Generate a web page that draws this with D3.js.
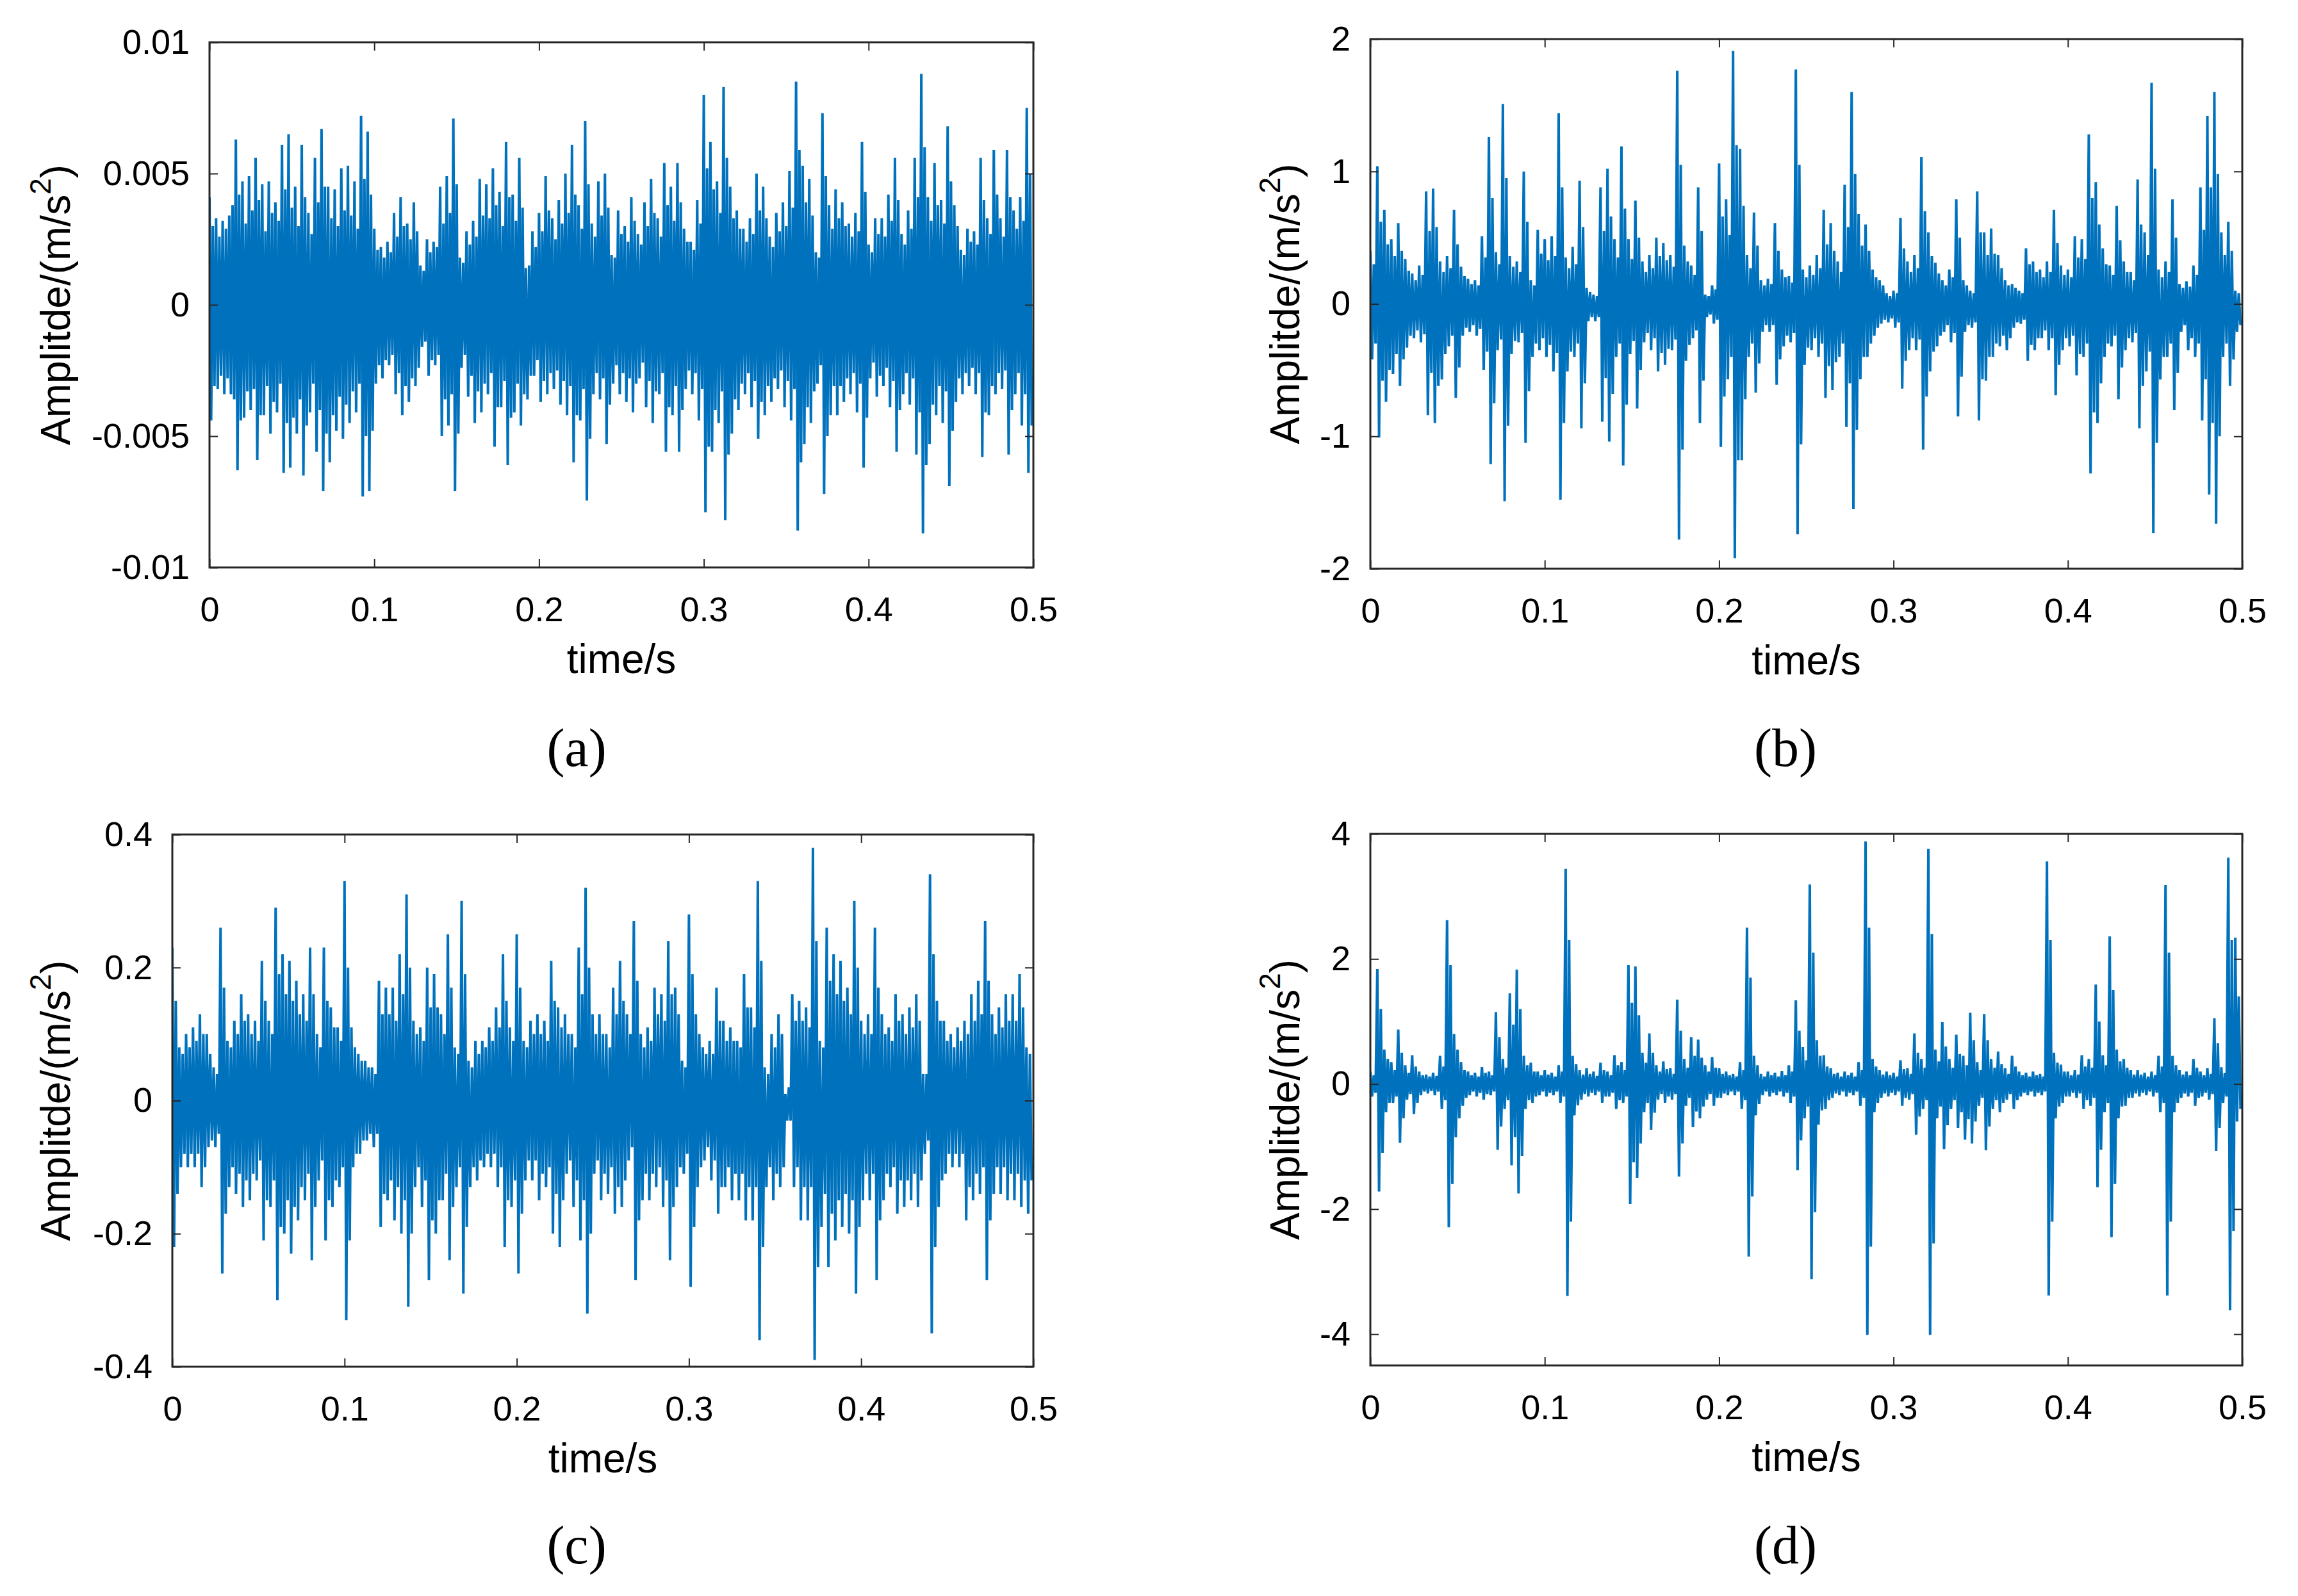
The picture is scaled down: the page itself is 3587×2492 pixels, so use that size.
<!DOCTYPE html>
<html>
<head>
<meta charset="utf-8">
<script src="https://cdnjs.cloudflare.com/ajax/libs/d3/7.8.5/d3.min.js"></script>
<style>
  body { margin: 0; background: #fff; }
</style>
</head>
<body>
<script>
// each 4 ms bin holds its largest peak pair (High/Low) and a second,
// smaller peak pair (High2/Low2), all read off the figure
var binWidth = 0.004;
var timeTicks = [0, 0.1, 0.2, 0.3, 0.4, 0.5];

// (a) values in 1e-3 m/s^2
var aUnit = 1e-3;
var aTicks = [-0.01, -0.005, 0, 0.005, 0.01];
var aHigh = [4.1,3.3,3.2,3.4,6.3,4.7,4.9,5.6,4.6,4.7,
  3.9,6.1,6.5,4.5,6.1,3.5,5.6,6.7,4.5,4.4,
  5.2,5.3,4.7,7.2,6.6,2.9,2.2,2.4,3.5,4.1,
  3.1,3.9,1.5,2.5,2.4,4.5,4.9,7.1,1.8,2.8,
  3.2,4.8,4.6,5.2,4.3,6.2,4.2,5.6,1.4,2.8,
  3.5,4.9,3.3,4.0,5.0,6.1,3.8,7.0,3.1,4.7,
  5.0,1.9,3.6,3.0,4.1,2.7,3.9,4.8,3.3,5.4,
  4.5,5.4,2.9,2.4,4.0,8.0,6.2,4.7,8.3,4.5,
  3.6,2.9,3.3,5.0,4.5,2.6,3.5,3.9,5.1,8.5,
  5.3,4.8,2.0,7.3,3.8,4.4,3.9,3.1,3.5,6.2,
  2.3,3.3,3.3,4.2,5.6,2.7,3.6,5.6,8.8,4.1,
  5.4,4.0,6.8,3.8,2.1,2.9,2.8,5.6,3.3,5.9,
  3.3,5.9,3.6,4.1,7.5];
var aLow = [-4.4,-3.2,-3.4,-3.4,-6.3,-4.3,-4.0,-5.9,-4.2,-4.9,
  -4.1,-6.4,-6.2,-4.9,-6.5,-4.1,-5.6,-7.1,-6.0,-4.8,
  -5.1,-4.5,-4.1,-7.3,-7.1,-3.0,-2.8,-2.3,-3.4,-4.2,
  -3.7,-3.1,-1.6,-2.7,-2.3,-5.0,-4.6,-7.1,-2.4,-3.5,
  -4.5,-4.1,-3.4,-5.4,-3.9,-6.1,-4.1,-4.6,-3.6,-2.7,
  -3.7,-3.4,-3.2,-3.8,-4.2,-6.0,-4.4,-7.45,-3.4,-3.6,
  -5.3,-3.0,-3.4,-3.7,-4.1,-2.8,-3.9,-4.5,-3.4,-5.6,
  -4.2,-5.6,-3.2,-3.4,-4.4,-7.9,-5.6,-4.5,-8.2,-4.9,
  -4.0,-3.4,-3.9,-5.1,-4.2,-3.7,-3.2,-3.9,-4.4,-8.6,
  -5.3,-4.5,-3.0,-7.2,-4.2,-4.2,-3.7,-3.4,-4.1,-6.2,
  -2.8,-3.5,-3.1,-3.9,-5.6,-3.4,-3.8,-5.7,-8.7,-5.3,
  -4.2,-4.5,-6.9,-3.7,-3.4,-3.1,-3.4,-5.8,-4.2,-3.4,
  -3.2,-5.7,-3.4,-4.6,-6.4];
var aHigh2 = [3.0,2.6,2.9,3.8,4.2,3.1,3.6,4.0,2.8,3.5,
  3.2,4.4,3.7,3.0,4.1,2.7,3.9,4.5,3.3,3.0,
  3.6,3.4,2.9,4.8,4.2,2.1,1.8,2.0,2.6,3.0,
  2.5,2.8,1.3,2.0,2.2,3.1,3.5,4.6,1.6,2.3,
  2.6,3.4,3.3,3.8,3.0,4.1,3.2,3.7,1.5,2.2,
  2.8,3.6,2.5,3.1,3.5,4.2,2.9,4.6,2.6,3.4,
  3.7,1.8,2.7,2.4,3.2,2.3,3.0,3.5,2.6,3.8,
  3.2,3.9,2.4,2.1,3.1,5.2,4.4,3.5,5.6,3.3,
  2.9,2.4,2.7,3.6,3.3,2.2,2.8,3.0,3.7,5.9,
  3.9,3.4,1.8,4.9,2.9,3.3,3.0,2.6,2.8,4.3,
  2.0,2.7,2.6,3.2,4.0,2.3,2.9,4.1,6.0,3.2,
  3.8,3.1,4.7,3.0,1.9,2.4,2.3,4.0,2.7,4.2,
  2.6,4.1,2.9,3.2,5.0];
var aLow2 = [-3.1,-2.7,-2.8,-3.6,-4.4,-3.3,-3.2,-4.2,-3.1,-3.7,
  -3.0,-4.5,-4.3,-3.6,-4.6,-3.0,-4.0,-4.9,-4.2,-3.5,
  -3.8,-3.3,-3.0,-5.0,-4.8,-2.3,-2.1,-1.9,-2.6,-3.1,
  -2.8,-2.4,-1.4,-2.1,-1.9,-3.6,-3.4,-4.9,-1.9,-2.7,
  -3.3,-3.0,-2.6,-3.9,-2.9,-4.3,-3.0,-3.4,-2.7,-2.1,
  -2.9,-2.6,-2.5,-2.9,-3.1,-4.2,-3.2,-5.1,-2.6,-2.8,
  -3.8,-2.3,-2.6,-2.8,-3.0,-2.2,-2.9,-3.3,-2.6,-3.9,
  -3.1,-4.0,-2.5,-2.6,-3.2,-5.4,-4.0,-3.3,-5.7,-3.6,
  -3.0,-2.6,-2.9,-3.7,-3.1,-2.8,-2.5,-2.9,-3.2,-6.0,
  -3.9,-3.3,-2.3,-5.0,-3.1,-3.1,-2.8,-2.6,-3.0,-4.3,
  -2.2,-2.7,-2.4,-2.9,-4.0,-2.6,-2.8,-4.1,-6.1,-3.8,
  -3.1,-3.3,-4.8,-2.8,-2.6,-2.4,-2.6,-4.1,-3.1,-2.6,
  -2.5,-4.0,-2.6,-3.4,-4.6];

// (b) values in m/s^2
var bTicks = [-2, -1, 0, 1, 2];
var bHigh = [0.40,1.04,0.71,0.49,0.61,0.34,0.23,0.29,0.85,0.87,
  0.32,0.36,0.71,0.28,0.19,0.18,0.51,1.26,0.39,1.51,
  0.36,0.32,1.00,0.18,0.56,0.49,0.51,1.44,0.35,0.43,
  0.93,0.12,0.07,0.88,1.02,0.49,1.19,0.49,0.78,0.32,
  0.37,0.50,0.46,0.37,1.76,0.44,0.29,0.88,0.07,0.14,
  1.06,0.79,1.91,1.17,0.37,0.69,0.18,0.19,0.61,0.26,
  0.21,1.77,0.26,0.29,0.37,0.71,0.61,0.32,0.90,1.60,
  0.68,0.60,0.26,0.18,0.08,0.10,0.65,0.32,0.37,1.11,
  0.54,0.31,0.18,0.26,0.79,0.18,0.10,0.85,0.54,0.57,
  0.37,0.18,0.15,0.10,0.42,0.32,0.26,0.32,0.71,0.29,
  0.26,0.51,0.49,1.28,0.92,0.42,0.29,0.74,0.32,0.24,
  0.94,0.54,1.67,0.26,0.32,0.79,0.15,0.17,0.29,0.88,
  1.42,1.60,0.54,0.62,0.10];
var bLow = [-0.42,-1.01,-0.74,-0.53,-0.62,-0.33,-0.26,-0.29,-0.84,-0.90,
  -0.57,-0.32,-0.71,-0.24,-0.21,-0.24,-0.50,-1.21,-0.35,-1.49,
  -0.38,-0.29,-1.05,-0.40,-0.35,-0.40,-0.51,-1.48,-0.51,-0.40,
  -0.94,-0.13,-0.13,-0.89,-1.04,-0.40,-1.22,-0.38,-0.79,-0.29,
  -0.35,-0.51,-0.46,-0.35,-1.78,-0.43,-0.26,-0.90,-0.10,-0.15,
  -1.08,-0.57,-1.92,-1.18,-0.40,-0.67,-0.21,-0.21,-0.61,-0.32,
  -0.29,-1.74,-0.46,-0.35,-0.40,-0.71,-0.65,-0.40,-0.93,-1.55,
  -0.57,-0.40,-0.24,-0.15,-0.14,-0.18,-0.64,-0.35,-0.35,-1.10,
  -0.51,-0.32,-0.21,-0.29,-0.85,-0.21,-0.18,-0.88,-0.58,-0.40,
  -0.32,-0.35,-0.18,-0.15,-0.43,-0.35,-0.26,-0.35,-0.69,-0.35,
  -0.32,-0.54,-0.40,-1.28,-0.90,-0.40,-0.32,-0.72,-0.35,-0.29,
  -0.94,-0.51,-1.73,-0.57,-0.40,-0.80,-0.21,-0.35,-0.40,-0.88,
  -1.44,-1.66,-0.40,-0.62,-0.21];
var bHigh2 = [0.30,0.62,0.45,0.36,0.40,0.25,0.18,0.22,0.55,0.58,
  0.24,0.27,0.45,0.21,0.15,0.14,0.35,0.80,0.30,0.95,
  0.28,0.24,0.62,0.14,0.38,0.33,0.36,0.88,0.27,0.30,
  0.58,0.09,0.06,0.55,0.66,0.35,0.72,0.34,0.50,0.24,
  0.27,0.36,0.33,0.28,1.05,0.32,0.22,0.55,0.06,0.11,
  0.66,0.52,1.20,0.74,0.27,0.44,0.14,0.15,0.40,0.20,
  0.16,1.05,0.20,0.22,0.27,0.45,0.40,0.24,0.58,0.98,
  0.44,0.40,0.20,0.14,0.06,0.08,0.42,0.24,0.27,0.70,
  0.36,0.23,0.14,0.20,0.50,0.14,0.08,0.54,0.37,0.38,
  0.27,0.14,0.12,0.08,0.30,0.24,0.20,0.24,0.46,0.22,
  0.20,0.35,0.34,0.80,0.60,0.30,0.22,0.48,0.24,0.18,
  0.60,0.37,1.02,0.20,0.24,0.50,0.12,0.13,0.22,0.56,
  0.88,0.98,0.37,0.40,0.08];
var bLow2 = [-0.30,-0.58,-0.50,-0.38,-0.42,-0.24,-0.20,-0.23,-0.52,-0.62,
  -0.38,-0.24,-0.48,-0.18,-0.16,-0.19,-0.36,-0.75,-0.27,-0.92,
  -0.28,-0.22,-0.66,-0.30,-0.26,-0.31,-0.37,-0.90,-0.36,-0.30,
  -0.60,-0.10,-0.10,-0.56,-0.68,-0.30,-0.76,-0.28,-0.50,-0.22,
  -0.26,-0.37,-0.34,-0.27,-1.10,-0.31,-0.20,-0.58,-0.08,-0.12,
  -0.70,-0.40,-1.18,-0.72,-0.30,-0.45,-0.16,-0.16,-0.42,-0.24,
  -0.22,-1.06,-0.33,-0.26,-0.30,-0.47,-0.44,-0.30,-0.60,-0.95,
  -0.40,-0.30,-0.18,-0.12,-0.11,-0.14,-0.43,-0.26,-0.27,-0.70,
  -0.36,-0.24,-0.16,-0.22,-0.55,-0.16,-0.14,-0.57,-0.40,-0.30,
  -0.24,-0.26,-0.14,-0.12,-0.31,-0.26,-0.20,-0.26,-0.46,-0.26,
  -0.24,-0.38,-0.30,-0.82,-0.60,-0.30,-0.24,-0.48,-0.26,-0.22,
  -0.62,-0.36,-1.05,-0.40,-0.30,-0.52,-0.16,-0.26,-0.30,-0.57,
  -0.90,-1.00,-0.30,-0.42,-0.16];

// (c) values in m/s^2
var cTicks = [-0.4, -0.2, 0, 0.2, 0.4];
var cHigh = [0.23,0.08,0.10,0.11,0.13,0.10,0.05,0.26,0.09,0.12,
  0.16,0.13,0.12,0.21,0.12,0.29,0.22,0.21,0.18,0.16,
  0.23,0.10,0.23,0.14,0.11,0.33,0.11,0.07,0.06,0.05,
  0.18,0.17,0.17,0.22,0.31,0.12,0.11,0.20,0.19,0.13,
  0.25,0.08,0.30,0.06,0.09,0.09,0.11,0.14,0.22,0.11,
  0.25,0.09,0.12,0.13,0.12,0.21,0.14,0.13,0.10,0.23,
  0.32,0.13,0.13,0.10,0.17,0.21,0.13,0.27,0.10,0.11,
  0.17,0.16,0.24,0.17,0.06,0.28,0.13,0.08,0.09,0.17,
  0.12,0.11,0.09,0.19,0.14,0.33,0.05,0.10,0.13,0.01,
  0.16,0.15,0.14,0.38,0.09,0.26,0.22,0.21,0.17,0.30,
  0.12,0.13,0.26,0.13,0.11,0.16,0.13,0.14,0.16,0.04,
  0.34,0.15,0.12,0.10,0.11,0.12,0.16,0.18,0.27,0.13,
  0.14,0.16,0.16,0.19,0.08];
var cLow = [-0.22,-0.10,-0.10,-0.10,-0.13,-0.07,-0.07,-0.26,-0.13,-0.14,
  -0.16,-0.15,-0.12,-0.21,-0.16,-0.30,-0.20,-0.23,-0.18,-0.15,
  -0.24,-0.12,-0.21,-0.16,-0.13,-0.33,-0.10,-0.08,-0.06,-0.07,
  -0.19,-0.15,-0.18,-0.20,-0.31,-0.13,-0.16,-0.27,-0.20,-0.15,
  -0.24,-0.13,-0.29,-0.13,-0.12,-0.10,-0.10,-0.13,-0.22,-0.16,
  -0.26,-0.12,-0.12,-0.15,-0.13,-0.20,-0.22,-0.11,-0.16,-0.21,
  -0.32,-0.11,-0.15,-0.14,-0.17,-0.16,-0.09,-0.27,-0.15,-0.15,
  -0.13,-0.16,-0.24,-0.13,-0.11,-0.28,-0.13,-0.09,-0.12,-0.17,
  -0.13,-0.15,-0.15,-0.18,-0.18,-0.36,-0.13,-0.15,-0.13,-0.03,
  -0.13,-0.18,-0.18,-0.39,-0.19,-0.25,-0.21,-0.19,-0.20,-0.29,
  -0.15,-0.15,-0.27,-0.15,-0.13,-0.17,-0.16,-0.15,-0.16,-0.08,
  -0.35,-0.16,-0.11,-0.10,-0.10,-0.18,-0.15,-0.14,-0.27,-0.14,
  -0.14,-0.15,-0.15,-0.16,-0.17];
var cHigh2 = [0.15,0.07,0.08,0.09,0.10,0.07,0.04,0.17,0.08,0.10,
  0.12,0.10,0.09,0.15,0.10,0.19,0.16,0.15,0.13,0.12,
  0.16,0.08,0.15,0.11,0.09,0.20,0.08,0.06,0.05,0.04,
  0.13,0.13,0.12,0.16,0.20,0.10,0.09,0.14,0.14,0.10,
  0.17,0.07,0.19,0.05,0.07,0.08,0.09,0.11,0.15,0.09,
  0.17,0.08,0.10,0.10,0.09,0.15,0.11,0.10,0.08,0.16,
  0.20,0.10,0.10,0.08,0.13,0.15,0.10,0.18,0.08,0.09,
  0.13,0.12,0.16,0.13,0.05,0.19,0.10,0.07,0.07,0.12,
  0.09,0.09,0.08,0.14,0.11,0.21,0.04,0.08,0.10,0.02,
  0.12,0.12,0.11,0.24,0.08,0.18,0.16,0.15,0.13,0.20,
  0.10,0.10,0.17,0.10,0.09,0.12,0.10,0.11,0.12,0.04,
  0.22,0.12,0.09,0.08,0.09,0.10,0.12,0.13,0.18,0.10,
  0.11,0.12,0.12,0.14,0.07];
var cLow2 = [-0.14,-0.08,-0.08,-0.08,-0.10,-0.06,-0.05,-0.17,-0.10,-0.11,
  -0.12,-0.11,-0.09,-0.15,-0.12,-0.19,-0.15,-0.16,-0.13,-0.11,
  -0.16,-0.09,-0.15,-0.12,-0.10,-0.21,-0.08,-0.06,-0.05,-0.05,
  -0.14,-0.12,-0.13,-0.15,-0.20,-0.10,-0.12,-0.18,-0.15,-0.11,
  -0.16,-0.10,-0.19,-0.10,-0.09,-0.08,-0.08,-0.10,-0.15,-0.12,
  -0.17,-0.09,-0.09,-0.11,-0.10,-0.14,-0.15,-0.09,-0.12,-0.15,
  -0.20,-0.09,-0.11,-0.10,-0.13,-0.12,-0.07,-0.18,-0.11,-0.11,
  -0.10,-0.12,-0.16,-0.10,-0.08,-0.19,-0.10,-0.07,-0.09,-0.13,
  -0.10,-0.11,-0.11,-0.13,-0.13,-0.22,-0.10,-0.11,-0.10,-0.03,
  -0.10,-0.13,-0.13,-0.25,-0.14,-0.17,-0.15,-0.14,-0.15,-0.19,
  -0.11,-0.11,-0.18,-0.11,-0.10,-0.12,-0.12,-0.11,-0.12,-0.06,
  -0.22,-0.12,-0.08,-0.08,-0.08,-0.13,-0.11,-0.10,-0.18,-0.10,
  -0.10,-0.11,-0.11,-0.12,-0.12];

// (d) values in m/s^2
var dTicks = [-4, -2, 0, 2, 4];
var dHigh = [0.20,1.84,0.55,0.35,0.87,0.30,0.46,0.20,0.15,0.18,
  0.45,2.62,0.80,0.35,0.20,0.18,0.27,0.20,1.15,0.40,
  1.45,1.83,0.45,0.34,0.20,0.22,0.18,0.30,3.44,0.45,
  0.22,0.25,0.20,0.34,0.20,0.46,0.35,1.90,1.88,0.50,
  0.81,0.30,0.36,0.25,1.35,0.40,0.75,0.71,0.30,0.43,
  0.25,0.20,0.16,0.35,2.50,0.45,0.16,0.20,0.18,0.21,
  0.30,1.34,0.59,3.19,0.70,0.46,0.25,0.18,0.20,0.18,
  0.35,3.88,0.40,0.22,0.20,0.18,0.38,0.25,0.81,0.40,
  3.76,0.55,0.99,0.40,0.79,0.45,1.14,0.35,1.12,0.40,
  0.52,0.25,0.45,0.20,0.18,0.20,0.16,3.56,0.50,0.31,
  0.20,0.22,0.46,0.40,1.59,0.46,2.36,0.55,0.40,0.22,
  0.22,0.18,0.20,0.45,3.18,0.45,0.22,0.20,0.40,0.20,
  0.25,1.05,0.27,3.62,2.34];
var dLow = [-0.20,-1.72,-0.45,-0.30,-0.94,-0.25,-0.48,-0.18,-0.15,-0.18,
  -0.40,-2.29,-0.85,-0.35,-0.18,-0.20,-0.25,-0.18,-1.05,-0.40,
  -1.30,-1.75,-0.40,-0.30,-0.18,-0.20,-0.18,-0.30,-3.39,-0.50,
  -0.25,-0.20,-0.18,-0.30,-0.20,-0.40,-0.30,-1.92,-1.50,-0.45,
  -0.73,-0.25,-0.30,-0.25,-1.48,-0.35,-0.69,-0.55,-0.25,-0.35,
  -0.22,-0.18,-0.18,-0.40,-2.76,-0.50,-0.18,-0.20,-0.18,-0.20,
  -0.30,-1.38,-0.55,-3.12,-0.65,-0.40,-0.22,-0.18,-0.20,-0.18,
  -0.35,-4.01,-0.45,-0.22,-0.20,-0.18,-0.35,-0.25,-0.81,-0.40,
  -4.01,-0.55,-1.04,-0.40,-0.70,-0.89,-0.95,-0.35,-1.06,-0.40,
  -0.45,-0.25,-0.40,-0.20,-0.18,-0.20,-0.18,-3.38,-0.55,-0.30,
  -0.20,-0.22,-0.40,-0.35,-1.65,-0.45,-2.45,-0.55,-0.35,-0.22,
  -0.20,-0.18,-0.20,-0.45,-3.38,-0.45,-0.22,-0.20,-0.35,-0.20,
  -0.25,-1.07,-0.30,-3.62,-0.60];
var dHigh2 = [0.14,1.20,0.40,0.22,0.50,0.18,0.28,0.14,0.12,0.13,
  0.28,1.90,0.55,0.22,0.14,0.12,0.18,0.14,0.75,0.26,
  0.95,1.20,0.30,0.20,0.14,0.15,0.12,0.20,2.30,0.32,
  0.15,0.16,0.13,0.22,0.14,0.30,0.22,1.30,1.10,0.34,
  0.50,0.20,0.24,0.16,0.85,0.26,0.45,0.42,0.20,0.26,
  0.16,0.14,0.12,0.22,1.70,0.30,0.12,0.14,0.12,0.14,
  0.20,0.85,0.38,2.10,0.45,0.28,0.16,0.12,0.14,0.12,
  0.22,2.50,0.28,0.15,0.14,0.12,0.24,0.16,0.50,0.26,
  2.40,0.36,0.60,0.26,0.48,0.30,0.70,0.22,0.70,0.26,
  0.32,0.16,0.28,0.14,0.12,0.14,0.12,2.30,0.34,0.20,
  0.14,0.15,0.28,0.26,1.00,0.30,1.50,0.36,0.26,0.15,
  0.15,0.12,0.14,0.28,2.10,0.30,0.15,0.14,0.26,0.14,
  0.16,0.65,0.18,2.30,1.40];
var dLow2 = [-0.14,-1.10,-0.30,-0.20,-0.55,-0.16,-0.30,-0.12,-0.11,-0.12,
  -0.26,-1.60,-0.55,-0.22,-0.12,-0.14,-0.16,-0.12,-0.68,-0.26,
  -0.85,-1.15,-0.26,-0.20,-0.12,-0.14,-0.12,-0.20,-2.20,-0.34,
  -0.16,-0.14,-0.12,-0.20,-0.14,-0.26,-0.20,-1.25,-0.95,-0.30,
  -0.46,-0.16,-0.20,-0.16,-0.95,-0.22,-0.44,-0.36,-0.16,-0.22,
  -0.15,-0.12,-0.12,-0.26,-1.80,-0.32,-0.12,-0.14,-0.12,-0.14,
  -0.20,-0.90,-0.36,-2.05,-0.42,-0.26,-0.15,-0.12,-0.14,-0.12,
  -0.22,-2.60,-0.30,-0.15,-0.14,-0.12,-0.22,-0.16,-0.52,-0.26,
  -2.55,-0.36,-0.66,-0.26,-0.45,-0.56,-0.60,-0.22,-0.68,-0.26,
  -0.30,-0.16,-0.26,-0.14,-0.12,-0.14,-0.12,-2.20,-0.36,-0.20,
  -0.14,-0.15,-0.26,-0.22,-1.05,-0.30,-1.60,-0.36,-0.22,-0.15,
  -0.14,-0.12,-0.14,-0.30,-2.20,-0.30,-0.15,-0.14,-0.22,-0.14,
  -0.16,-0.70,-0.20,-2.35,-0.40];

var panels = [
  {id: 'a', high: aHigh, low: aLow, high2: aHigh2, low2: aLow2, unit: aUnit, domain: [-0.01, 0.01], ticks: aTicks},
  {id: 'b', high: bHigh, low: bLow, high2: bHigh2, low2: bLow2, unit: 1, domain: [-2, 2], ticks: bTicks},
  {id: 'c', high: cHigh, low: cLow, high2: cHigh2, low2: cLow2, unit: 1, domain: [-0.4, 0.4], ticks: cTicks},
  {id: 'd', high: dHigh, low: dLow, high2: dHigh2, low2: dLow2, unit: 1, domain: [-4.5, 4], ticks: dTicks}
];

// page layout (pixels)
var layout = {
  a: {left: 327, right: 1613, top: 66, bottom: 886, labelX: 109, capX: 900, capY: 1196},
  b: {left: 2139, right: 3500, top: 61, bottom: 888, labelX: 2028, capX: 2787, capY: 1196},
  c: {left: 269, right: 1613, top: 1303, bottom: 2134, labelX: 109, capX: 900, capY: 2441},
  d: {left: 2139, right: 3500, top: 1302, bottom: 2132, labelX: 2028, capX: 2787, capY: 2441}
};

var lineColor = '#0072BD',
    axisColor = '#262626',
    sansFont = '"Liberation Sans", Arial, Helvetica, sans-serif',
    serifFont = '"Liberation Serif", "Times New Roman", serif',
    tickLen = 13;

var svg = d3.select('body').append('svg')
  .attr('width', 3587)
  .attr('height', 2492);

svg.append('rect')
  .attr('width', 3587)
  .attr('height', 2492)
  .attr('fill', '#fff');

function fmt(d) { return String(d); }

function styleAxis(sel, showText) {
  sel.select('.domain').remove();
  sel.attr('font-size', 54).attr('font-family', sansFont);
  sel.selectAll('.tick line')
    .attr('stroke', axisColor)
    .attr('stroke-width', 2);
  sel.selectAll('.tick text')
    .attr('fill', '#000')
    .style('display', showText ? null : 'none');
}

panels.forEach(function(p) {
  var L = layout[p.id];

  var x = d3.scaleLinear().domain([0, 0.5]).range([L.left, L.right]);
  var y = d3.scaleLinear().domain(p.domain).range([L.bottom, L.top]);

  var g = svg.append('g').attr('id', 'panel-' + p.id);

  g.append('clipPath')
    .attr('id', 'clip-' + p.id)
    .append('rect')
    .attr('x', L.left)
    .attr('y', L.top)
    .attr('width', L.right - L.left)
    .attr('height', L.bottom - L.top);

  // peak, trough, second peak, second trough in every bin
  var pts = [];
  p.high.forEach(function(v, i) {
    var t = i * binWidth;
    pts.push([t, v * p.unit]);
    pts.push([t + binWidth * 0.25, p.low[i] * p.unit]);
    pts.push([t + binWidth * 0.5, p.high2[i] * p.unit]);
    pts.push([t + binWidth * 0.75, p.low2[i] * p.unit]);
  });

  g.append('g')
    .attr('clip-path', 'url(#clip-' + p.id + ')')
    .append('path')
    .datum(pts)
    .attr('fill', 'none')
    .attr('stroke', lineColor)
    .attr('stroke-width', 4)
    .attr('d', d3.line()
      .x(function(d) { return x(d[0]); })
      .y(function(d) { return y(d[1]); }));

  // axes, ticks pointing inward on all four sides
  g.append('g')
    .attr('transform', 'translate(0,' + L.bottom + ')')
    .call(d3.axisBottom(x).tickValues(timeTicks).tickSize(-tickLen).tickPadding(46).tickFormat(fmt))
    .call(styleAxis, true);

  g.append('g')
    .attr('transform', 'translate(0,' + L.top + ')')
    .call(d3.axisTop(x).tickValues(timeTicks).tickSize(-tickLen).tickFormat(''))
    .call(styleAxis, false);

  g.append('g')
    .attr('transform', 'translate(' + L.left + ',0)')
    .call(d3.axisLeft(y).tickValues(p.ticks).tickSize(-tickLen).tickPadding(31).tickFormat(fmt))
    .call(styleAxis, true);

  g.append('g')
    .attr('transform', 'translate(' + L.right + ',0)')
    .call(d3.axisRight(y).tickValues(p.ticks).tickSize(-tickLen).tickFormat(''))
    .call(styleAxis, false);

  g.append('rect')
    .attr('x', L.left)
    .attr('y', L.top)
    .attr('width', L.right - L.left)
    .attr('height', L.bottom - L.top)
    .attr('fill', 'none')
    .attr('stroke', axisColor)
    .attr('stroke-width', 3);

  // axis titles
  var yl = g.append('text')
    .attr('transform', 'translate(' + L.labelX + ',' + ((L.top + L.bottom) / 2) + ') rotate(-90)')
    .attr('text-anchor', 'middle')
    .attr('font-family', sansFont)
    .attr('font-size', 64)
    .attr('fill', '#000');
  yl.append('tspan').text('Amplitde/(m/s');
  yl.append('tspan').attr('font-size', 46).attr('dy', -30).text('2');
  yl.append('tspan').attr('dy', 30).text(')');

  g.append('text')
    .attr('x', (L.left + L.right) / 2)
    .attr('y', L.bottom + 165)
    .attr('text-anchor', 'middle')
    .attr('font-family', sansFont)
    .attr('font-size', 64)
    .attr('fill', '#000')
    .text('time/s');

  // sub-figure caption
  g.append('text')
    .attr('x', L.capX)
    .attr('y', L.capY)
    .attr('text-anchor', 'middle')
    .attr('font-family', serifFont)
    .attr('font-size', 84)
    .attr('fill', '#000')
    .text('(' + p.id + ')');
});
</script>
</body>
</html>
